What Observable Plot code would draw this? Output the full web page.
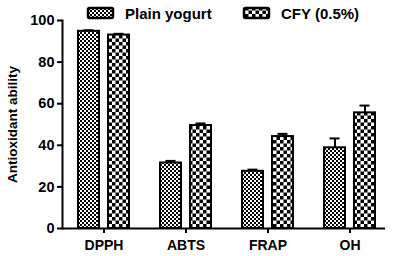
<!DOCTYPE html>
<html>
<head>
<meta charset="utf-8">
<script src="https://cdn.jsdelivr.net/npm/d3@7"></script>
<script src="https://cdn.jsdelivr.net/npm/@observablehq/plot@0.6"></script>
<style>
  html, body { margin: 0; padding: 0; background: white; }
</style>
</head>
<body>
<div id="chart"></div>
<script>
const categories = ["DPPH", "ABTS", "FRAP", "OH"];
const seriesNames = ["Plain yogurt", "CFY (0.5%)"];
const plainValues = [94.8, 31.5, 27.5, 38.8];
const plainErrors = [0.5, 1.0, 0.8, 4.5];
const cfyValues = [93.0, 49.5, 44.2, 55.6];
const cfyErrors = [0.6, 1.0, 1.3, 3.5];
const yTicks = [0, 20, 40, 60, 80, 100];
const yLabel = "Antioxidant ability";

const plain = categories.map((c, i) => ({cat: c, value: plainValues[i], err: plainErrors[i]}));
const cfy = categories.map((c, i) => ({cat: c, value: cfyValues[i], err: cfyErrors[i]}));

const chart = Plot.plot({
  width: 396,
  height: 256,
  marginLeft: 62,
  marginRight: 5,
  marginTop: 20,
  marginBottom: 28,
  style: {fontFamily: "'Liberation Sans', Arial, sans-serif", fontSize: "14px", fontWeight: "bold", color: "black", background: "white", overflow: "visible"},
  x: {domain: categories, paddingInner: 0.378, paddingOuter: 0.195, label: null},
  y: {domain: [0, 100], label: null},
  marks: [
    Plot.barY(plain, {x: "cat", y: "value", fill: "url(#pat-plain)", stroke: "black", strokeWidth: 2, insetRight: 30}),
    Plot.barY(cfy, {x: "cat", y: "value", fill: "url(#pat-cfy)", stroke: "black", strokeWidth: 2, insetLeft: 30}),
    Plot.ruleX(plain, {x: "cat", y1: "value", y2: d => d.value + d.err, dx: -15, strokeWidth: 2}),
    Plot.tickY(plain, {x: "cat", y: d => d.value + d.err, insetLeft: 5.5, insetRight: 35.5, strokeWidth: 2}),
    Plot.ruleX(cfy, {x: "cat", y1: "value", y2: d => d.value + d.err, dx: 15, strokeWidth: 2}),
    Plot.tickY(cfy, {x: "cat", y: d => d.value + d.err, insetLeft: 35.5, insetRight: 5.5, strokeWidth: 2}),
    Plot.axisY({ticks: yTicks, tickSize: 5, tickPadding: 3, strokeWidth: 2, fontSize: 14.5, label: null}),
    Plot.axisX({tickSize: 5, tickPadding: 7, strokeWidth: 2, fontSize: 14, label: null}),
    Plot.frame({anchor: "left", strokeWidth: 2}),
    Plot.ruleY([0], {strokeWidth: 2, insetRight: 6}),
    Plot.text([yLabel], {frameAnchor: "left", text: d => d, rotate: -90, textAnchor: "middle", dx: -50, fontSize: 13.5, fontWeight: "bold"})
  ]
});

document.getElementById("chart").appendChild(chart);

const svg = d3.select(chart);
const defs = svg.insert("defs", ":first-child");
const p1 = defs.append("pattern").attr("id", "pat-plain").attr("patternUnits", "userSpaceOnUse").attr("width", 4).attr("height", 4);
p1.append("rect").attr("width", 4).attr("height", 4).attr("fill", "white");
p1.append("rect").attr("width", 2).attr("height", 2).attr("fill", "black");
p1.append("rect").attr("x", 2).attr("y", 2).attr("width", 2).attr("height", 2).attr("fill", "black");
const p2 = defs.append("pattern").attr("id", "pat-cfy").attr("patternUnits", "userSpaceOnUse").attr("width", 7).attr("height", 7);
p2.append("rect").attr("width", 7).attr("height", 7).attr("fill", "white");
p2.append("rect").attr("width", 3.5).attr("height", 3.5).attr("fill", "black");
p2.append("rect").attr("x", 3.5).attr("y", 3.5).attr("width", 3.5).attr("height", 3.5).attr("fill", "black");

// legend
const legendItems = [
  {name: seriesNames[0], fill: "url(#pat-plain)", x: 88},
  {name: seriesNames[1], fill: "url(#pat-cfy)", x: 244}
];
const lg = svg.append("g").attr("class", "legend");
legendItems.forEach(item => {
  lg.append("rect").attr("x", item.x).attr("y", 8).attr("width", 25).attr("height", 10)
    .attr("rx", 1.5).attr("fill", item.fill).attr("stroke", "black").attr("stroke-width", 2.5);
  lg.append("text").attr("x", item.x + 37).attr("y", 19).attr("font-size", 15).attr("font-weight", "bold")
    .attr("text-anchor", "start").attr("fill", "black").text(item.name);
});
</script>
</body>
</html>
